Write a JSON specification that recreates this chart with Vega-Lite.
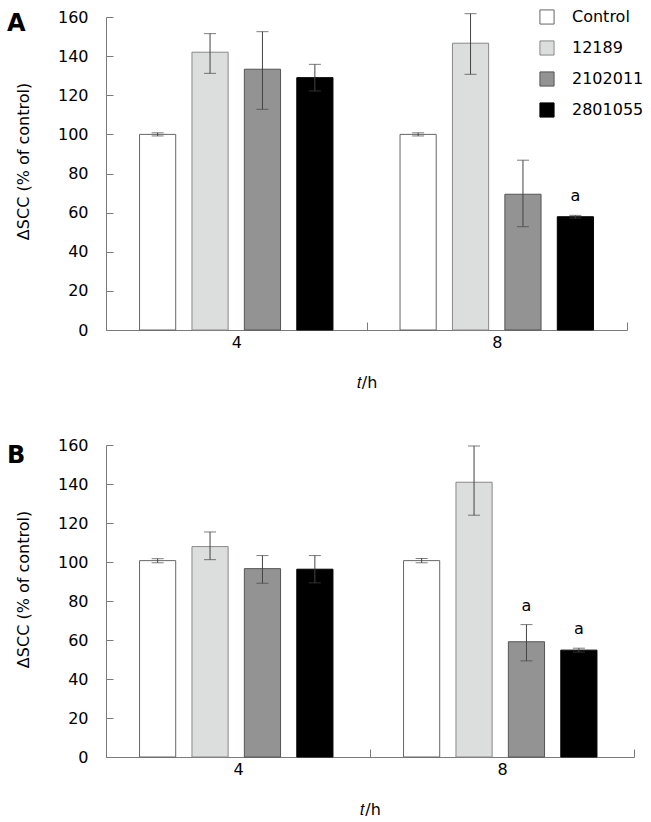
{
  "$schema": "https://vega.github.io/schema/vega-lite/v6.json",
  "padding": {"left": 7, "top": -14, "right": 5, "bottom": 5},
  "background": "white",
  "spacing": 28,
  "config": {
    "font": "DejaVu Sans",
    "view": {"stroke": null},
    "axis": {
      "domainColor": "#7a7a7a",
      "tickColor": "#7a7a7a",
      "labelColor": "#000000",
      "titleColor": "#000000",
      "labelFont": "DejaVu Sans",
      "titleFont": "DejaVu Sans",
      "labelFontSize": 16,
      "titleFontSize": 16,
      "titleFontWeight": "normal",
      "grid": false
    }
  },
  "datasets": {
    "A": [
      {"time": "4", "group": "Control", "mean": 100, "lo": 99.2, "hi": 100.8, "label": ""},
      {"time": "4", "group": "12189", "mean": 142, "lo": 131.2, "hi": 151.5, "label": ""},
      {"time": "4", "group": "2102011", "mean": 133.3, "lo": 112.8, "hi": 152.5, "label": ""},
      {"time": "4", "group": "2801055", "mean": 129, "lo": 122.2, "hi": 135.8, "label": ""},
      {"time": "8", "group": "Control", "mean": 100, "lo": 99.2, "hi": 100.8, "label": ""},
      {"time": "8", "group": "12189", "mean": 146.6, "lo": 130.7, "hi": 161.7, "label": ""},
      {"time": "8", "group": "2102011", "mean": 69.4, "lo": 52.8, "hi": 86.8, "label": ""},
      {"time": "8", "group": "2801055", "mean": 57.9, "lo": 57.2, "hi": 58.6, "label": "a"}
    ],
    "B": [
      {"time": "4", "group": "Control", "mean": 100.7, "lo": 99.6, "hi": 101.7, "label": ""},
      {"time": "4", "group": "12189", "mean": 107.9, "lo": 101.2, "hi": 115.4, "label": ""},
      {"time": "4", "group": "2102011", "mean": 96.6, "lo": 89.1, "hi": 103.3, "label": ""},
      {"time": "4", "group": "2801055", "mean": 96.3, "lo": 89.3, "hi": 103.3, "label": ""},
      {"time": "8", "group": "Control", "mean": 100.7, "lo": 99.6, "hi": 101.8, "label": ""},
      {"time": "8", "group": "12189", "mean": 140.9, "lo": 124, "hi": 159.5, "label": ""},
      {"time": "8", "group": "2102011", "mean": 59.1, "lo": 49.3, "hi": 67.9, "label": "a"},
      {"time": "8", "group": "2801055", "mean": 54.8, "lo": 53.8, "hi": 55.8, "label": "a"}
    ]
  },
  "resolve": {"legend": {"fill": "independent", "stroke": "independent"}},
  "vconcat": [
    {
      "width": 521,
      "height": 313,
      "title": {"text": "A", "anchor": "start", "frame": "group", "fontSize": 24, "fontWeight": "bold", "font": "DejaVu Sans", "dx": -99, "offset": -68, "baseline": "alphabetic", "color": "#000000"},
      "data": {"name": "A"},
      "encoding": {
        "x": {"field": "time", "type": "nominal", "sort": ["4", "8"],
          "scale": {"paddingInner": 0, "paddingOuter": 0},
          "axis": {"title": "𝑡/h", "labelAngle": 0, "tickBand": "extent", "tickSize": -8, "labelPadding": 12, "titlePadding": 24}},
        "xOffset": {"field": "group", "type": "nominal", "sort": ["Control", "12189", "2102011", "2801055"],
          "scale": {"paddingInner": 0.31, "paddingOuter": 0.64}}
      },
      "layer": [
        {
          "mark": {"type": "bar", "strokeWidth": 1},
          "encoding": {
            "y": {"field": "mean", "type": "quantitative",
              "scale": {"domain": [0, 160]},
              "axis": {"title": "ΔSCC (% of control)", "values": [0, 20, 40, 60, 80, 100, 120, 140, 160], "tickSize": -7, "labelPadding": 25, "titlePadding": 26, "titleY": 144, "labelOverlap": false}},
            "fill": {"field": "group", "type": "nominal", "sort": ["Control", "12189", "2102011", "2801055"],
              "scale": {"domain": ["Control", "12189", "2102011", "2801055"], "range": ["#ffffff", "#dcdddd", "#939393", "#000000"]},
              "legend": {"title": null, "orient": "none", "legendX": 433, "legendY": -8, "symbolType": "square", "symbolSize": 200, "symbolStrokeWidth": 1, "labelFontSize": 16, "labelColor": "#000000", "labelOffset": 17, "rowPadding": 11, "labelFont": "DejaVu Sans"}},
            "stroke": {"field": "group", "type": "nominal", "sort": ["Control", "12189", "2102011", "2801055"],
              "scale": {"domain": ["Control", "12189", "2102011", "2801055"], "range": ["#666666", "#888888", "#555555", "#000000"]},
              "legend": {"title": null, "orient": "none", "legendX": 433, "legendY": -8, "symbolType": "square", "symbolSize": 200, "symbolStrokeWidth": 1, "labelFontSize": 16, "labelColor": "#000000", "labelOffset": 17, "rowPadding": 11, "labelFont": "DejaVu Sans"}}
          }
        },
        {
          "mark": {"type": "rule", "color": "#444444", "strokeWidth": 1},
          "encoding": {"y": {"field": "lo", "type": "quantitative", "axis": {"title": "ΔSCC (% of control)", "values": [0, 20, 40, 60, 80, 100, 120, 140, 160], "tickSize": -7, "labelPadding": 25, "titlePadding": 26, "titleY": 144, "labelOverlap": false}}, "y2": {"field": "hi"}}
        },
        {
          "mark": {"type": "tick", "color": "#444444", "thickness": 1, "size": 12, "orient": "horizontal"},
          "encoding": {"y": {"field": "lo", "type": "quantitative", "axis": {"title": "ΔSCC (% of control)", "values": [0, 20, 40, 60, 80, 100, 120, 140, 160], "tickSize": -7, "labelPadding": 25, "titlePadding": 26, "titleY": 144, "labelOverlap": false}}}
        },
        {
          "mark": {"type": "tick", "color": "#444444", "thickness": 1, "size": 12, "orient": "horizontal"},
          "encoding": {"y": {"field": "hi", "type": "quantitative", "axis": {"title": "ΔSCC (% of control)", "values": [0, 20, 40, 60, 80, 100, 120, 140, 160], "tickSize": -7, "labelPadding": 25, "titlePadding": 26, "titleY": 144, "labelOverlap": false}}}
        },
        {
          "mark": {"type": "text", "fontSize": 16, "dy": -14, "baseline": "alphabetic", "color": "#000000"},
          "encoding": {"y": {"field": "hi", "type": "quantitative", "axis": {"title": "ΔSCC (% of control)", "values": [0, 20, 40, 60, 80, 100, 120, 140, 160], "tickSize": -7, "labelPadding": 25, "titlePadding": 26, "titleY": 144, "labelOverlap": false}}, "text": {"field": "label"}}
        }
      ]
    },
    {
      "width": 528,
      "height": 312,
      "title": {"text": "B", "anchor": "start", "frame": "group", "fontSize": 24, "fontWeight": "bold", "font": "DejaVu Sans", "dx": -99, "offset": -68, "baseline": "alphabetic", "color": "#000000"},
      "data": {"name": "B"},
      "encoding": {
        "x": {"field": "time", "type": "nominal", "sort": ["4", "8"],
          "scale": {"paddingInner": 0, "paddingOuter": 0},
          "axis": {"title": "𝑡/h", "labelAngle": 0, "tickBand": "extent", "tickSize": -8, "labelPadding": 12, "titlePadding": 24}},
        "xOffset": {"field": "group", "type": "nominal", "sort": ["Control", "12189", "2102011", "2801055"],
          "scale": {"paddingInner": 0.31, "paddingOuter": 0.68}}
      },
      "layer": [
        {
          "mark": {"type": "bar", "strokeWidth": 1},
          "encoding": {
            "y": {"field": "mean", "type": "quantitative",
              "scale": {"domain": [0, 160]},
              "axis": {"title": "ΔSCC (% of control)", "values": [0, 20, 40, 60, 80, 100, 120, 140, 160], "tickSize": -7, "labelPadding": 25, "titlePadding": 26, "titleY": 144, "labelOverlap": false}},
            "fill": {"field": "group", "type": "nominal", "sort": ["Control", "12189", "2102011", "2801055"],
              "scale": {"domain": ["Control", "12189", "2102011", "2801055"], "range": ["#ffffff", "#dcdddd", "#939393", "#000000"]},
              "legend": null},
            "stroke": {"field": "group", "type": "nominal", "sort": ["Control", "12189", "2102011", "2801055"],
              "scale": {"domain": ["Control", "12189", "2102011", "2801055"], "range": ["#666666", "#888888", "#555555", "#000000"]},
              "legend": null}
          }
        },
        {
          "mark": {"type": "rule", "color": "#444444", "strokeWidth": 1},
          "encoding": {"y": {"field": "lo", "type": "quantitative", "axis": {"title": "ΔSCC (% of control)", "values": [0, 20, 40, 60, 80, 100, 120, 140, 160], "tickSize": -7, "labelPadding": 25, "titlePadding": 26, "titleY": 144, "labelOverlap": false}}, "y2": {"field": "hi"}}
        },
        {
          "mark": {"type": "tick", "color": "#444444", "thickness": 1, "size": 12, "orient": "horizontal"},
          "encoding": {"y": {"field": "lo", "type": "quantitative", "axis": {"title": "ΔSCC (% of control)", "values": [0, 20, 40, 60, 80, 100, 120, 140, 160], "tickSize": -7, "labelPadding": 25, "titlePadding": 26, "titleY": 144, "labelOverlap": false}}}
        },
        {
          "mark": {"type": "tick", "color": "#444444", "thickness": 1, "size": 12, "orient": "horizontal"},
          "encoding": {"y": {"field": "hi", "type": "quantitative", "axis": {"title": "ΔSCC (% of control)", "values": [0, 20, 40, 60, 80, 100, 120, 140, 160], "tickSize": -7, "labelPadding": 25, "titlePadding": 26, "titleY": 144, "labelOverlap": false}}}
        },
        {
          "mark": {"type": "text", "fontSize": 16, "dy": -14, "baseline": "alphabetic", "color": "#000000"},
          "encoding": {"y": {"field": "hi", "type": "quantitative", "axis": {"title": "ΔSCC (% of control)", "values": [0, 20, 40, 60, 80, 100, 120, 140, 160], "tickSize": -7, "labelPadding": 25, "titlePadding": 26, "titleY": 144, "labelOverlap": false}}, "text": {"field": "label"}}
        }
      ]
    }
  ]
}
